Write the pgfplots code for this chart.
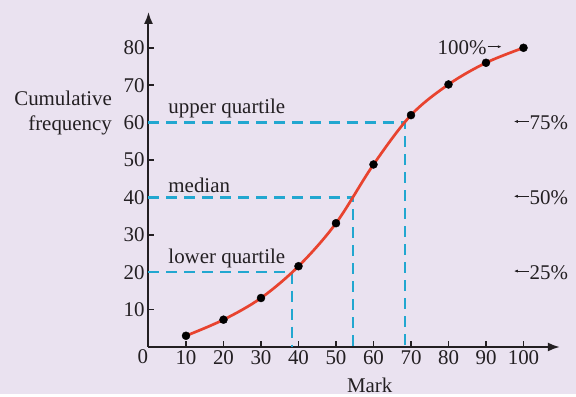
\documentclass[border=0pt]{standalone}
\usepackage{fontspec}
\setmainfont{Liberation Serif}
\usepackage{pgfplots}
\pgfplotsset{compat=1.18}
\usetikzlibrary{arrows.meta}
\definecolor{bg}{HTML}{EAE2F0}
\definecolor{curvec}{HTML}{E8432F}
\definecolor{dashc}{HTML}{22A7D0}
\definecolor{axc}{HTML}{231F22}
\newcommand{\bigf}{\fontsize{21}{24.5}\selectfont}
\begin{document}
\begin{tikzpicture}
\fill[bg] (-148.5bp,-47bp) rectangle (427.5bp,347bp);
\begin{axis}[
  at={(0,0)}, anchor=origin,
  x=3.75bp, y=3.74bp,
  xmin=0, xmax=109.7, ymin=0, ymax=89.6,
  enlargelimits=false,
  clip=false,
  axis lines=left,
  axis line style={draw=axc, line width=2bp, -{Latex[length=12bp,width=9bp]}},
  xtick={10,20,...,100}, ytick={10,20,...,80},
  major tick length=6bp,
  tick style={draw=axc, line width=1.5bp},
  tick align=inside,
  /pgf/number format/assume math mode=true,
  ticklabel style={font=\bigf, text=axc},
  xticklabel style={yshift=-0.5bp},
  yticklabel style={xshift=-0.5bp},
]
\addplot[dashc, line width=2.6bp, dash pattern=on 11bp off 7bp] coordinates {(0,20) (38.3,20) (38.3,0)};
\addplot[dashc, line width=2.6bp, dash pattern=on 11bp off 7bp] coordinates {(0,40) (54.5,40) (54.5,0)};
\addplot[dashc, line width=2.6bp, dash pattern=on 11bp off 7bp] coordinates {(0,60) (68.4,60) (68.4,0)};
\addplot[curvec, line width=2.7bp, smooth, tension=0.55] coordinates {
(10,3) (20,7.3) (30,13.1) (40,21.6) (50,33.1) (60,48.8) (70,62) (80,70.2) (90,76) (100,80)};
\addplot[only marks, mark=*, mark size=4bp, black] coordinates {
(10,3) (20,7.3) (30,13.1) (40,21.6) (50,33.1) (60,48.8) (70,62) (80,70.2) (90,76) (100,80)};
\node[text=axc, align=right, anchor=east, font=\bigf, inner sep=0pt] at (axis cs:-9.7,62.6) {Cumulative\\frequency};
\node[text=axc, anchor=south west, inner sep=1bp, font=\bigf] at (axis cs:5,60.9) {upper quartile};
\node[text=axc, anchor=south west, inner sep=1bp, font=\bigf] at (axis cs:5,40.9) {median};
\node[text=axc, anchor=south west, inner sep=1bp, font=\bigf] at (axis cs:5,20.9) {lower quartile};
\node[text=axc, font=\bigf] at (axis cs:59,-10.3) {Mark};
\node[text=axc, font=\bigf] at (axis cs:-1.5,-2.6) {0};
\node[text=axc, anchor=east, inner sep=0pt, font=\bigf] at (axis cs:90.2,80) {100\%};
\draw[axc, line width=0.9bp, -{Latex[length=4bp,width=3bp]}] (axis cs:90.4,80.3) -- (axis cs:94.2,80.3);
\node[text=axc, anchor=west, inner sep=0pt, font=\bigf] at (axis cs:101.6,60) {75\%};
\node[text=axc, anchor=west, inner sep=0pt, font=\bigf] at (axis cs:101.6,40) {50\%};
\node[text=axc, anchor=west, inner sep=0pt, font=\bigf] at (axis cs:101.6,20) {25\%};
\draw[axc, line width=0.9bp, {Latex[length=4bp,width=3bp]}-] (axis cs:97.4,60.3) -- (axis cs:101.4,60.3);
\draw[axc, line width=0.9bp, {Latex[length=4bp,width=3bp]}-] (axis cs:97.4,40.3) -- (axis cs:101.4,40.3);
\draw[axc, line width=0.9bp, {Latex[length=4bp,width=3bp]}-] (axis cs:97.4,20.3) -- (axis cs:101.4,20.3);
\end{axis}
\end{tikzpicture}
\end{document}
